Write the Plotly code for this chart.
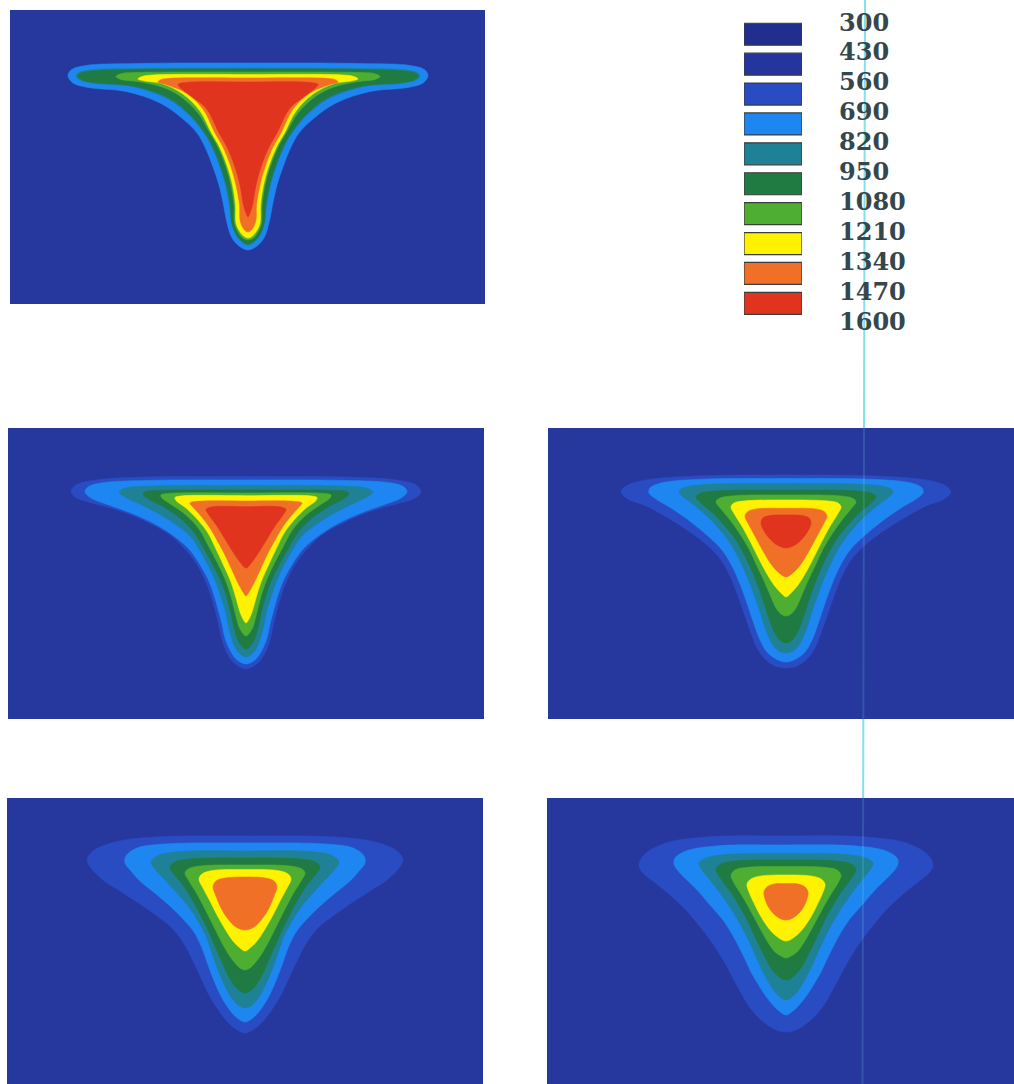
import plotly.graph_objects as go

W, H = 1014, 1084

# ---------------- data ----------------
LEVELS = [300, 430, 560, 690, 820, 950, 1080, 1210, 1340, 1470, 1600]
BAND_COLORS = ["#202F8E", "#24359D", "#2A4CC2", "#1E86F0", "#1E8195",
               "#1F7B42", "#4EAE32", "#FFF200", "#F07028", "#E0341F"]
PANEL_BG = "#26379D"

# Isotherm outlines, right half: (offset from weld centre line, depth below panel top)
# Panel 1
P1_690 = [(0, 53), (110, 53.5), (162, 55.5), (177, 60), (180, 66), (175, 73), (160, 77.5), (122, 81.5), (88, 93),
          (65, 109), (51, 123), (43, 137), (35, 157), (29, 175), (24.5, 195), (21, 213), (16, 228), (9, 236), (0, 240)]
P1_820 = [(0, 58), (110, 58.5), (158, 60), (170, 63), (172, 66.5), (167, 70.5), (152, 73.5), (116, 76.5), (80, 89),
          (58, 106), (44, 123), (36, 137), (28, 157), (22.5, 175), (18.5, 195), (16.5, 213), (12, 225), (6.5, 232),
          (0, 235)]
P1_950 = [(0, 59), (110, 59.5), (156, 61), (168, 63.5), (170, 66.7), (165, 70.3), (150, 73), (114, 76), (78, 88.5),
          (57, 105.5), (43, 123), (35, 137), (27, 157), (21.5, 175), (17.8, 195), (16, 213), (11.5, 224.5), (6, 231),
          (0, 234)]
P1_1080 = [(0, 62), (110, 62.5), (126, 63.5), (132, 66.5), (127, 69.5), (110, 71.5), (86, 77), (68, 86), (50, 103),
           (38, 123), (30, 137), (22, 157), (17, 175), (14, 195), (13.5, 213), (10, 222), (5.5, 228), (0, 230)]
P1_1210 = [(0, 64.5), (95, 65), (106, 66.5), (110, 69), (103, 71), (86, 73.5), (65, 84), (48, 101), (36.5, 123),
           (28.5, 137), (20.5, 157), (15.5, 175), (12.5, 195), (12, 213), (8.5, 221), (4.5, 226), (0, 228)]
P1_1340 = [(0, 68), (80, 68.5), (88, 70), (90, 72), (82, 74.5), (62, 83), (45, 99), (33, 123), (25, 137), (17, 157),
           (12, 175), (8.5, 195), (8, 210), (5.5, 217), (3, 220.5), (0, 222)]
P1_1470 = [(0, 72), (62, 72.5), (70, 74.5), (68, 77.5), (57, 86), (42, 98), (29, 123), (21, 137), (13, 157),
           (8, 175), (4.5, 195), (2, 203), (0, 207)]

# Panel 2
P2_560 = [(0, 48.5), (100, 49), (150, 52), (170, 57), (175, 63.5), (170, 69.5), (152, 75.5), (135, 80), (112, 88),
          (93, 97), (77, 106), (62, 120), (50, 135), (41, 152), (35, 168), (31, 182), (27, 198), (24, 212), (19, 225),
          (12, 235), (0, 241)]
P2_690 = [(0, 52), (100, 52.5), (145, 55), (158, 59), (161, 64), (155, 70), (137, 77), (115, 85), (93, 95), (75, 106),
          (58, 120), (47, 135), (38, 151), (32, 167), (28, 181), (24, 196), (21, 210), (16, 222), (10, 231), (0, 236)]
P2_820 = [(0, 57.5), (95, 58), (120, 60), (127, 64), (121, 69), (104, 77), (85, 87), (68, 98), (55, 109), (47, 121),
          (38, 137), (31, 152), (26, 166), (21, 181), (18, 196), (15, 208), (11, 219), (6, 226), (0, 229)]
P2_950 = [(0, 62), (90, 62.5), (100, 63.5), (103, 66), (97, 71), (82, 79), (66, 90), (53, 103), (43, 119), (33, 137),
          (25, 153), (20, 167), (16, 181), (13, 195), (10, 207), (6, 216), (0, 221)]
P2_1080 = [(0, 65), (78, 65.5), (85, 67), (84, 70), (74, 77), (60, 87), (47, 101), (37, 119), (28, 136), (21, 151),
           (16, 165), (12, 180), (9, 192), (6, 201), (0, 208)]
P2_1210 = [(0, 67.7), (65, 68), (71, 69.5), (70, 72.5), (60, 80), (48, 92), (38, 105), (31, 119), (23, 136), (15, 154),
           (10, 170), (6, 184), (3, 191), (0, 195)]
P2_1340 = [(0, 73), (50, 73.5), (56, 75), (54, 78), (45, 88), (36, 100), (28, 114), (22, 125), (14, 142), (8, 155),
           (3, 164), (0, 168)]
P2_1470 = [(0, 78.7), (35, 79), (40, 81.5), (37, 87), (29, 98), (21, 111), (13, 124), (6, 134), (0, 140)]

# Panel 3
P3_560 = [(0, 47), (90, 48), (140, 52), (160, 58), (165, 64), (158, 71), (140, 78), (118, 90), (96, 104), (78, 118),
          (65, 132), (56, 148), (48, 168), (41, 188), (35, 205), (29, 220), (21, 231), (11, 238), (0, 240)]
P3_690 = [(0, 50.5), (90, 51.5), (125, 55), (136, 60), (137, 65), (130, 71), (115, 80), (95, 94), (78, 108), (64, 122),
          (54, 138), (46, 156), (38, 178), (32, 196), (26, 212), (19, 224), (10, 231), (0, 234)]
P3_820 = [(0, 55.5), (80, 56.5), (100, 59), (107, 63), (104, 68), (92, 77), (78, 89), (65, 103), (54, 118), (45, 135),
          (37, 153), (30, 172), (24, 190), (19, 205), (13, 217), (7, 223), (0, 225)]
P3_950 = [(0, 62), (70, 63), (86, 65.5), (90, 69), (85, 75), (73, 85), (61, 98), (50, 112), (41, 128), (33, 145),
          (26, 163), (20, 181), (15, 196), (10, 207), (5, 213), (0, 215)]
P3_1080 = [(0, 67), (55, 68), (67, 70.5), (70, 74), (65, 81), (56, 92), (46, 106), (37, 121), (29, 138), (21, 155),
           (15, 169), (10, 180), (5, 186), (0, 188)]
P3_1210 = [(0, 72), (42, 73), (52, 75), (55, 79), (51, 87), (43, 100), (35, 115), (27, 131), (19, 146), (12, 157),
           (5, 165), (0, 169)]
P3_1340 = [(0, 80.3), (30, 81), (38, 83.5), (41, 88), (37, 97), (30, 110), (23, 123), (15, 136), (8, 144), (0, 149)]
P3_1470 = [(0, 87), (16, 87.5), (23, 90), (25, 95), (22, 103), (16, 111), (9, 117), (0, 120)]

# Panel 4
P4_560 = [(0, 38), (90, 39), (130, 44), (152, 53), (158, 62), (154, 70), (142, 82), (125, 93), (105, 106), (88, 118),
          (74, 129), (62, 144), (52, 163), (43, 182), (36, 197), (28, 210), (20, 221), (12, 229), (0, 235)]
P4_690 = [(0, 45), (80, 46), (108, 50), (119, 58), (120, 65), (114, 73), (105, 83), (89, 96), (74, 109), (61, 122),
          (51, 134), (43, 150), (37, 167), (30, 185), (23, 200), (16, 211), (9, 219), (0, 224)]
P4_820 = [(0, 53), (70, 54), (88, 58), (94, 64), (90, 71), (80, 82), (68, 95), (56, 109), (47, 123), (39, 138),
          (33, 155), (27, 172), (20, 188), (14, 199), (7, 207), (0, 210)]
P4_950 = [(0, 60), (55, 61), (70, 64), (75, 69), (71, 76), (62, 87), (53, 101), (45, 116), (37, 132), (30, 148),
          (23, 164), (17, 177), (11, 187), (5, 193), (0, 195)]
P4_1080 = [(0, 67), (45, 68), (57, 71), (60, 75), (56, 83), (48, 96), (40, 111), (32, 127), (24, 143), (16, 157),
           (10, 165), (5, 170), (0, 172)]
P4_1210 = [(0, 71.5), (32, 72.5), (43, 76), (46, 81), (42, 90), (35, 103), (28, 117), (20, 131), (12, 143), (5, 150),
           (0, 153)]
P4_1340 = [(0, 79), (20, 80), (29, 83), (32, 89), (29, 98), (24, 110), (17, 121), (9, 129), (0, 132)]

# Panel 5
P5_560 = [(0, 38), (80, 39), (120, 45), (141, 56), (147, 66), (144, 74), (132, 84), (116, 97), (100, 112), (89, 125),
          (78, 139), (69, 152), (60, 167), (52, 182), (45, 195), (38, 207), (29, 218), (20, 226), (10, 232), (0, 234)]
P5_690 = [(0, 47), (70, 48), (100, 53), (111, 60), (112, 66), (107, 74), (98, 83), (88, 93), (76, 107), (63, 122),
          (54, 136), (47, 149), (41, 161), (35, 174), (28, 186), (21, 197), (14, 206), (7, 213), (0, 217)]
P5_820 = [(0, 55.5), (60, 56.5), (80, 60), (87, 65), (84, 72), (76, 82), (66, 95), (56, 109), (47, 124), (39, 139),
          (32, 154), (25, 170), (18, 183), (12, 193), (6, 199), (0, 202)]
P5_950 = [(0, 62), (50, 63), (65, 66), (70, 71), (67, 78), (59, 89), (50, 102), (42, 116), (35, 130), (28, 145),
          (21, 159), (15, 170), (9, 177), (4, 181), (0, 182)]
P5_1080 = [(0, 68.5), (40, 69.5), (51, 72), (55, 77), (52, 85), (45, 96), (38, 108), (31, 121), (24, 134), (17, 146),
           (11, 154), (5, 158), (0, 160)]
P5_1210 = [(0, 77), (25, 78), (35, 81), (39, 86), (37, 94), (32, 105), (26, 117), (19, 128), (11, 137), (0, 143)]
P5_1340 = [(0, 85.5), (12, 86), (19, 89), (22, 94), (21, 101), (17, 110), (11, 117), (5, 121), (0, 122)]

PANEL_ISOTHERMS = [
    {690: P1_690, 820: P1_820, 950: P1_950, 1080: P1_1080, 1210: P1_1210, 1340: P1_1340, 1470: P1_1470},
    {560: P2_560, 690: P2_690, 820: P2_820, 950: P2_950, 1080: P2_1080, 1210: P2_1210, 1340: P2_1340, 1470: P2_1470},
    {560: P3_560, 690: P3_690, 820: P3_820, 950: P3_950, 1080: P3_1080, 1210: P3_1210, 1340: P3_1340, 1470: P3_1470},
    {560: P4_560, 690: P4_690, 820: P4_820, 950: P4_950, 1080: P4_1080, 1210: P4_1210, 1340: P4_1340},
    {560: P5_560, 690: P5_690, 820: P5_820, 950: P5_950, 1080: P5_1080, 1210: P5_1210, 1340: P5_1340},
]

# ---------------- layout geometry (pixels) ----------------
# (left, top, right, bottom, centre-x)
PANEL_BOXES = [
    (10, 10, 485, 304, 248),
    (8, 428, 484, 719, 246),
    (548, 428, 1024, 719, 786),
    (7, 798, 483, 1089, 245),
    (547, 798, 1023, 1089, 786),
]

fig = go.Figure()
layout = dict(
    width=W, height=H, margin=dict(l=0, r=0, t=0, b=0),
    paper_bgcolor="white", plot_bgcolor="rgba(0,0,0,0)", showlegend=False,
)
shapes = []


def outline(half):
    xs = [p[0] for p in half] + [-p[0] for p in reversed(half[1:-1])]
    ys = [p[1] for p in half] + [p[1] for p in reversed(half[1:-1])]
    xs.append(xs[0])
    ys.append(ys[0])
    return xs, ys


def sfx(k):
    return "" if k == 1 else str(k)


for k, (box, iso) in enumerate(zip(PANEL_BOXES, PANEL_ISOTHERMS), start=1):
    left, top, right, bottom, cx = box
    r = min(right, W)
    b = min(bottom, H)
    s = sfx(k)
    layout[f"xaxis{s}"] = dict(domain=[left / W, r / W], range=[left - cx, r - cx], visible=False,
                               anchor=f"y{s}", fixedrange=True)
    layout[f"yaxis{s}"] = dict(domain=[1 - b / H, 1 - top / H], range=[b - top, 0], visible=False,
                               anchor=f"x{s}", fixedrange=True)
    shapes.append(dict(type="rect", xref=f"x{s} domain", yref=f"y{s} domain", x0=0, x1=1, y0=0, y1=1,
                       fillcolor=PANEL_BG, line=dict(width=0), layer="below"))
    for lev in LEVELS[2:-1]:
        if lev not in iso:
            continue
        xs, ys = outline(iso[lev])
        col = BAND_COLORS[LEVELS.index(lev)]
        fig.add_trace(go.Scatter(
            x=xs, y=ys, mode="lines", fill="toself", fillcolor=col,
            line=dict(color=col, width=0.6, shape="spline", smoothing=1.0),
            xaxis=f"x{s}", yaxis=f"y{s}", hoverinfo="skip",
        ))

# ---------------- legend (colour key) ----------------
LEG_TOP_PX, LEG_BOT_PX = 0, 345
LABEL0_PX, PITCH_PX = 22, 29.9
t_top = (LEG_TOP_PX - LABEL0_PX) / PITCH_PX
t_bot = (LEG_BOT_PX - LABEL0_PX) / PITCH_PX
layout["xaxis6"] = dict(domain=[744 / W, 802 / W], range=[0, 1], visible=False, anchor="y6", fixedrange=True)
layout["yaxis6"] = dict(domain=[1 - LEG_BOT_PX / H, 1 - LEG_TOP_PX / H], range=[t_bot, t_top], visible=False,
                        anchor="x6", fixedrange=True)
n_bands = len(LEVELS) - 1
fig.add_trace(go.Bar(
    x=[1] * n_bands, y=[i + 0.41 for i in range(n_bands)], base=0, orientation="h",
    width=22 / PITCH_PX, marker=dict(color=BAND_COLORS, line=dict(color="#3c3c3c", width=1.2)),
    xaxis="x6", yaxis="y6", hoverinfo="skip", cliponaxis=False,
))

annotations = []
for i, lev in enumerate(LEVELS):
    annotations.append(dict(
        x=837 / W, xref="paper", xanchor="left", y=i, yref="y6", yanchor="middle",
        text=str(lev), showarrow=False,
        font=dict(family="DejaVu Serif", size=24, color="#35464C", weight="bold"),
    ))

# scanner trace line (pale cyan vertical)
for y0, y1, op in [(0, 428, 0.85), (428, 719, 0.18), (719, 798, 0.85), (798, 1084, 0.18)]:
    x0 = 865 - 2.5 * y0 / H
    x1 = 865 - 2.5 * y1 / H
    shapes.append(dict(type="line", xref="paper", yref="paper", x0=x0 / W, x1=x1 / W,
                       y0=1 - y0 / H, y1=1 - y1 / H, line=dict(color="#6FDCE6", width=2),
                       opacity=op, layer="above"))

layout["shapes"] = shapes
layout["annotations"] = annotations
fig.update_layout(**layout)
fig.write_html("out.html")
